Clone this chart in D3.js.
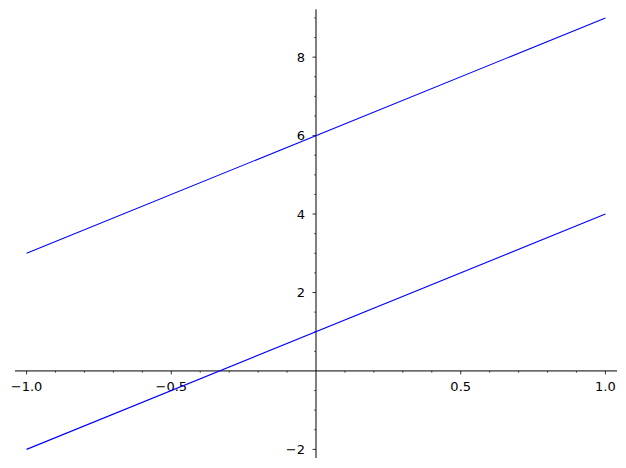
<!DOCTYPE html>
<html><head><meta charset="utf-8">
<script src="https://cdn.jsdelivr.net/npm/d3@7"></script>
<style>body{margin:0;background:#fff}svg{display:block}</style>
</head><body>
<script>
const xEnds = [-1, 1];
const lineA = [3, 9];   // y = 3x + 6
const lineB = [-2, 4];  // y = 3x + 1
const xMajor = [-1.0, -0.5, 0.5, 1.0];
const yMajor = [-2, 2, 4, 6, 8];
const xDomain = [-1.04, 1.04];
const yDomain = [-2.22, 9.22];

const W = 626, H = 468;
const svg = d3.select("body").append("svg").attr("width", W).attr("height", H);
const x = d3.scaleLinear().domain(xDomain).range([15, 617]);
const y = d3.scaleLinear().domain(yDomain).range([458, 9.3]);

const font = "DejaVu Sans, sans-serif";
const x0 = x(0), y0 = y(0);

// axis lines
svg.append("line").attr("x1", x(xDomain[0])).attr("x2", x(xDomain[1])).attr("y1", y0).attr("y2", y0)
  .attr("stroke", "#000").attr("stroke-width", 1);
svg.append("line").attr("x1", x0).attr("x2", x0).attr("y1", y(yDomain[0])).attr("y2", y(yDomain[1]))
  .attr("stroke", "#000").attr("stroke-width", 1);

// x minor ticks
const xMinor = d3.range(-10, 11).map(i => i / 10).filter(v => Math.abs(v * 2 - Math.round(v * 2)) > 1e-9);
svg.selectAll(".xmin").data(xMinor).join("line")
  .attr("x1", d => x(d)).attr("x2", d => x(d)).attr("y1", y0).attr("y2", y0 + 2)
  .attr("stroke", "#000").attr("stroke-width", 0.6);
svg.selectAll(".xmaj").data(xMajor).join("line")
  .attr("x1", d => x(d)).attr("x2", d => x(d)).attr("y1", y0).attr("y2", y0 + 3.5)
  .attr("stroke", "#000").attr("stroke-width", 0.8);
const fmtX = d => d3.format(".1f")(d).replace("-", "\u2212");
svg.selectAll(".xlab").data(xMajor).join("text")
  .attr("x", d => x(d)).attr("y", y0 + 20.5).attr("text-anchor", "middle")
  .attr("font-family", font).attr("font-size", 13).attr("fill", "#000")
  .text(fmtX);

// y minor ticks
const yMinor = d3.range(-4, 19).map(i => i / 2).filter(v => v % 2 !== 0);
svg.selectAll(".ymin").data(yMinor).join("line")
  .attr("x1", x0).attr("x2", x0 - 2).attr("y1", d => y(d)).attr("y2", d => y(d))
  .attr("stroke", "#000").attr("stroke-width", 0.6);
svg.selectAll(".ymaj").data(yMajor).join("line")
  .attr("x1", x0).attr("x2", x0 - 3.5).attr("y1", d => y(d)).attr("y2", d => y(d))
  .attr("stroke", "#000").attr("stroke-width", 0.8);
svg.selectAll(".ylab").data(yMajor).join("text")
  .attr("x", x0 - 11).attr("y", d => y(d)).attr("dy", "0.36em").attr("text-anchor", "end")
  .attr("font-family", font).attr("font-size", 13).attr("fill", "#000")
  .text(d => String(d).replace("-", "\u2212"));

// lines
const line = d3.line().x(d => x(d[0])).y(d => y(d[1]));
[lineA, lineB].forEach(vals => {
  svg.append("path").datum(xEnds.map((xv, i) => [xv, vals[i]]))
    .attr("d", line).attr("fill", "none").attr("stroke", "#0000ff").attr("stroke-width", 1.1);
});
</script>
</body></html>
